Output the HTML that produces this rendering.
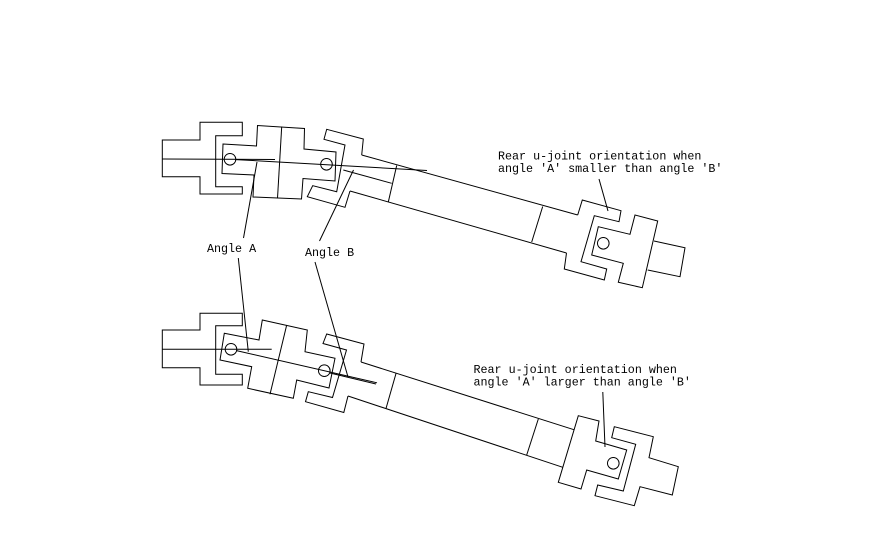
<!DOCTYPE html>
<html>
<head>
<meta charset="utf-8">
<style>
  html,body{margin:0;padding:0;background:#fff;}
  svg{display:block;}
  text{font-family:"Liberation Mono","DejaVu Sans Mono",monospace;font-size:11.7px;fill:#000;}
</style>
</head>
<body>
<svg width="893" height="545" viewBox="0 0 893 545" xmlns="http://www.w3.org/2000/svg">
<rect width="893" height="545" fill="#fff"/>
<g fill="none" stroke="#000" stroke-width="1" stroke-linejoin="miter">

  <!-- ================= TOP ASSEMBLY ================= -->
  <!-- front fixed yoke -->
  <polygon points="162.3,140 200,140 200,122.3 242.3,122.3 242.3,135.7 215.7,135.7 215.7,186.7 242.3,186.7 242.3,194 200,194 200,176.7 162.3,176.7"/>
  <!-- front yoke centre line -->
  <line x1="162.3" y1="159" x2="275" y2="159.5"/>
  <!-- front cross -->
  <polygon points="223,144 256.5,146 257.5,125.5 304.5,128.5 304,149 336,152 335,181 303,178.5 301.5,199 253,197 254,175 222,173.5"/>
  <line x1="281.7" y1="126.7" x2="277.5" y2="198.3"/>
  <circle cx="230" cy="159.3" r="5.8"/>
  <circle cx="326.5" cy="164.3" r="5.8"/>
  <!-- cross axis line -->
  <line x1="236" y1="159.6" x2="427" y2="170.5"/>
  <!-- second yoke (C) -->
  <polyline points="361.7,155 363.3,139 326.7,129.3 324,139.3 345,145 336.7,191.7 312.7,185.7 307.3,196.7 345,207.3 350,191"/>
  <!-- yoke axis line -->
  <line x1="343.3" y1="170" x2="391.7" y2="183.3"/>
  <!-- shaft edges -->
  <line x1="361.7" y1="155" x2="577.7" y2="215"/>
  <line x1="350" y1="191" x2="566.5" y2="253"/>
  <line x1="396.7" y1="165.5" x2="388.3" y2="202"/>
  <line x1="542.7" y1="206.5" x2="531.7" y2="242"/>
  <!-- rear yoke -->
  <polyline points="577.7,215 582.3,200 621,210.7 619,221.7 594.3,215.7 581,261.7 606.7,269 604.3,280 564.3,269 566.5,253"/>
  <!-- rear cross -->
  <polygon points="598.3,226.7 630,234.3 635,215 657.7,221 642.3,287.7 618.3,282.3 623.3,263.3 591.7,255"/>
  <circle cx="603.3" cy="243.3" r="5.8"/>
  <!-- rear stub -->
  <polyline points="654,241 685,247.7 680,276.7 647.7,270"/>

  <!-- ================= BOTTOM ASSEMBLY ================= -->
  <polygon points="162.3,330 200,330 200,313.3 242.3,313.3 242.3,325.7 215.7,325.7 215.7,374.3 242.3,374.3 242.3,385 200,385 200,367.7 162.3,367.7"/>
  <line x1="162.3" y1="349.3" x2="271.7" y2="349.3"/>
  <!-- front cross -->
  <polygon points="224.3,333.3 259,340 262.3,320 307.3,330 305,351.7 335,358.3 329,388 296.7,380 293.3,398.3 247.7,388.3 251.7,366.7 220,360"/>
  <line x1="286.7" y1="325" x2="270" y2="394.3"/>
  <circle cx="231" cy="349.3" r="5.8"/>
  <circle cx="324.3" cy="370.7" r="5.8"/>
  <line x1="236.5" y1="350.6" x2="377" y2="382.8"/>
  <line x1="330" y1="373" x2="376" y2="384"/>
  <!-- second yoke (C) -->
  <polyline points="361,362 364,344 326.7,334 323,343.5 346.5,350 332.5,397.5 308.3,391.7 305.5,401.7 343.8,412.5 348,396"/>
  <!-- shaft -->
  <line x1="361" y1="362" x2="574.3" y2="429.8"/>
  <line x1="348" y1="396" x2="562.8" y2="467.3"/>
  <line x1="396" y1="373.5" x2="386" y2="408.5"/>
  <line x1="538.3" y1="419" x2="526.7" y2="455"/>
  <!-- rear yoke (rotated) -->
  <polygon points="578.3,415.7 599,421 595.7,441 626.7,450 618.3,479 586.7,470 581,489 558.3,482.3"/>
  <circle cx="613.3" cy="463.3" r="5.8"/>
  <!-- rear output yoke -->
  <polygon points="614.3,426.7 653.3,436.7 649,457.7 678.3,466.7 672.3,495 640,486.7 634.3,505.7 595,495.7 597.7,485 623.3,491 635.7,444.3 611.7,437.7"/>

  <!-- ================= LEADERS ================= -->
  <line x1="257" y1="162" x2="243.5" y2="238"/>
  <line x1="238.3" y1="258" x2="248.3" y2="351.7"/>
  <line x1="353.5" y1="170" x2="319.5" y2="241"/>
  <line x1="315" y1="262" x2="348" y2="377"/>
  <line x1="599" y1="179" x2="608" y2="211"/>
  <line x1="602.8" y1="392" x2="605" y2="447"/>
</g>

<!-- ================= LABELS ================= -->
<text x="498" y="159.7">Rear u-joint orientation when</text>
<text x="498" y="172">angle 'A' smaller than angle 'B'</text>
<text x="473.5" y="373.2">Rear u-joint orientation when</text>
<text x="473.5" y="385.5">angle 'A' larger than angle 'B'</text>
<text x="207" y="252">Angle A</text>
<text x="305" y="256">Angle B</text>
</svg>
</body>
</html>
